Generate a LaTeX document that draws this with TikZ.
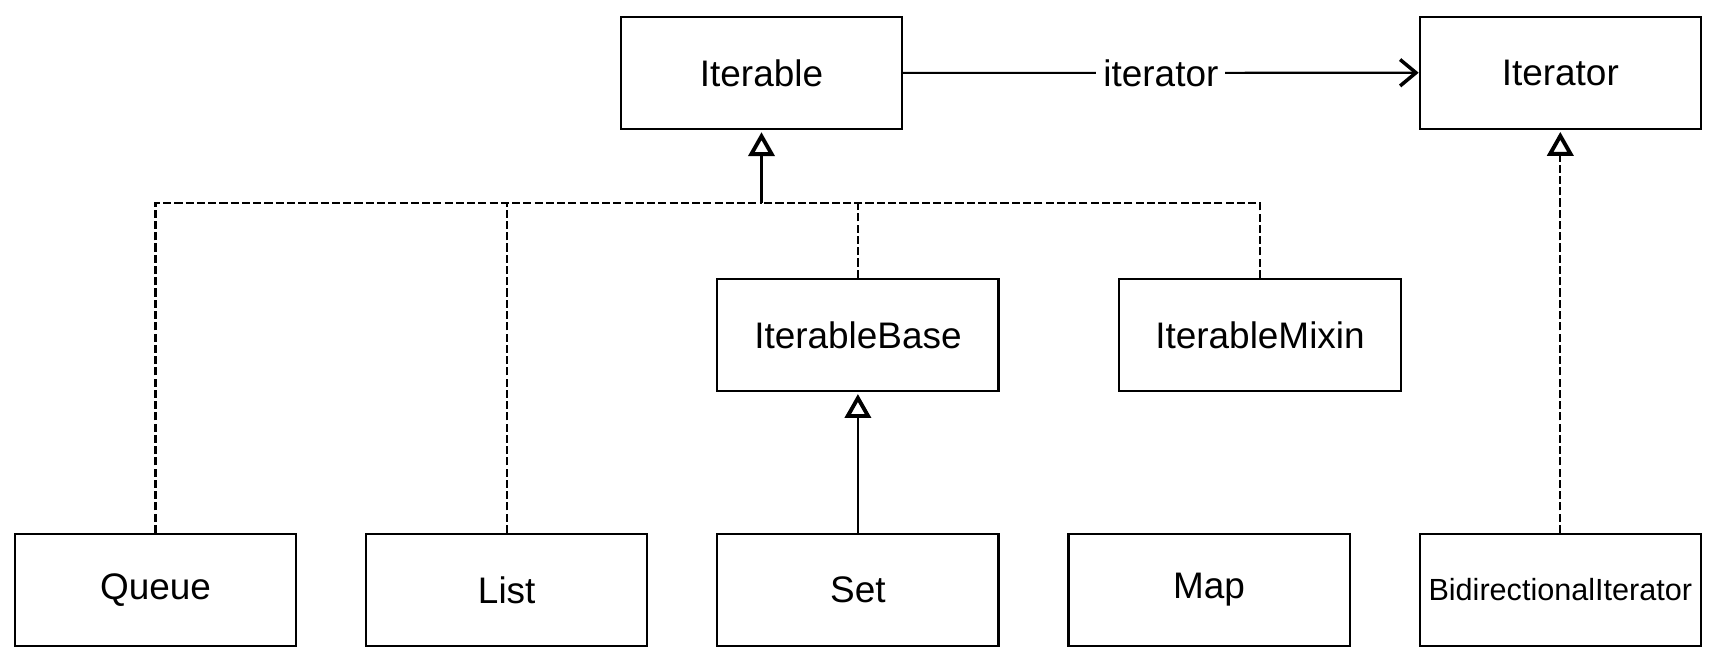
\documentclass[tikz,border=0pt]{standalone}
\usepackage{fontspec}
\setmainfont{Liberation Sans}
\usetikzlibrary{arrows.meta}

\begin{document}
\begin{tikzpicture}[x=0.01cm,y=0.01cm,
  classbox/.style={rectangle,draw,line width=0.6pt,minimum width=2.81cm,minimum height=1.12cm,inner sep=1pt,font=\fontsize{10.5}{12}\selectfont},
  realize/.style={line width=0.6pt,shorten >=0.6pt,-{Triangle[open,width=7.4pt,length=6.8pt,line width=1.1pt]}},
  dashline/.style={line width=0.6pt,dash pattern=on 2.3pt off 0.9pt},
  assoc/.style={line width=0.6pt,-{Straight Barb[length=4.5pt,width=7.5pt,line width=1pt]}}]
\useasboundingbox (0,0) rectangle (1718,658);

% Bottom row
\node[classbox] (queue) at (155.5,68) {Queue};
\node[classbox,right of=queue,node distance=3.51cm] (list) {List};
\node[classbox,right of=list,node distance=3.51cm] (set) {Set};
\node[classbox,right of=set,node distance=3.51cm] (map) {Map};
\node[classbox,right of=map,node distance=3.51cm,font=\fontsize{8.7}{10}\selectfont] (bidi) {BidirectionalIterator};

% Middle row
\node[classbox,above of=set,node distance=2.55cm] (base) {IterableBase};
\node[classbox] (mixin) at (1260,323) {IterableMixin};

% Top row
\node[classbox] (iterable) at (761.5,585) {Iterable};
\node[classbox,above of=bidi,node distance=5.17cm] (iterator) {Iterator};

% Arrows
\coordinate (bus) at (761.5,455);
\draw[realize] (bus) -- (iterable);
\draw[dashline] (queue.north) |- (bus);
\draw[dashline] (mixin.north) |- (bus);
\draw[dashline] (list.north) -- (list.north |- bus);
\draw[dashline] (base.north) -- (base.north |- bus);
\draw[realize] (set) -- (base);
\draw[realize,dashline] (bidi) -- (iterator);
\draw[assoc] (iterable) -- node[fill=white,inner xsep=2pt,font=\fontsize{10.5}{12}\selectfont] {iterator} (iterator);
\end{tikzpicture}
\end{document}
